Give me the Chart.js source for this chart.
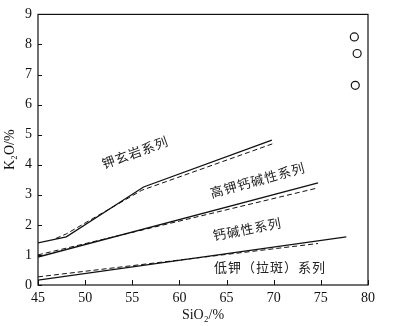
<!DOCTYPE html>
<html>
<head>
<meta charset="utf-8">
<script src="https://cdn.jsdelivr.net/npm/chart.js@4/dist/chart.umd.min.js"></script>
<style>
  html, body { margin: 0; padding: 0; background: #fff; }
  #wrap { width: 393px; height: 326px; }
</style>
</head>
<body>
<div id="wrap"><canvas id="chart" width="393" height="326"></canvas></div>
<script>
// eixos
const xTicks = [45, 50, 55, 60, 65, 70, 75, 80];
const yTicks = [0, 1, 2, 3, 4, 5, 6, 7, 8, 9];

// linhas divisórias (SiO2 / K2O)
const shoSolidX = [45, 48, 56.2, 69.8];
const shoSolidY = [1.40, 1.60, 3.26, 4.82];
const shoDashX = [46.9, 48, 56, 70];
const shoDashY = [1.55, 1.70, 3.15, 4.71];

const hkSolidX = [45, 74.7];
const hkSolidY = [0.93, 3.40];
const hkDashX = [45, 74.7];
const hkDashY = [1.00, 3.23];

const lkSolidX = [45, 77.7];
const lkSolidY = [0.16, 1.60];
const lkDashX = [45, 74.7];
const lkDashY = [0.27, 1.38];

// amostras
const amostraX = [78.55, 78.85, 78.65];
const amostraY = [8.25, 7.70, 6.64];

// rótulos das séries
const rotulos = ['钾玄岩系列', '高钾钙碱性系列', '钙碱性系列', '低钾（拉斑）系列'];

const pts = (xs, ys) => xs.map((x, i) => ({ x: x, y: ys[i] }));

const linha = (xs, ys, dash) => ({
    data: pts(xs, ys),
    showLine: true,
    borderColor: '#111',
    borderWidth: dash ? 1 : 1.3,
    borderDash: dash ? [5, 3] : [],
    pointRadius: 0,
    fill: false,
    tension: 0
});

// moldura + ticks para dentro + rótulos
const extras = {
    id: 'extras',
    afterDraw(chart) {
        const ctx = chart.ctx;
        const a = chart.chartArea;
        const sx = chart.scales.x, sy = chart.scales.y;
        ctx.save();
        ctx.strokeStyle = '#111';
        ctx.lineWidth = 1.2;
        ctx.strokeRect(a.left, a.top, a.right - a.left, a.bottom - a.top);
        ctx.lineWidth = 1;
        xTicks.forEach(v => {
            const px = Math.round(sx.getPixelForValue(v)) + 0.5;
            ctx.beginPath(); ctx.moveTo(px, a.bottom); ctx.lineTo(px, a.bottom - 5); ctx.stroke();
        });
        yTicks.forEach(v => {
            const py = Math.round(sy.getPixelForValue(v)) + 0.5;
            ctx.beginPath(); ctx.moveTo(a.left, py); ctx.lineTo(a.left + 4, py); ctx.stroke();
        });

        const txt = (s, x, y, ang) => {
            ctx.save();
            ctx.translate(sx.getPixelForValue(x), sy.getPixelForValue(y));
            ctx.rotate(ang * Math.PI / 180);
            ctx.fillStyle = '#222';
            ctx.font = '13px "Noto Sans CJK SC"';
            ctx.letterSpacing = '1px';
            ctx.textAlign = 'center';
            ctx.textBaseline = 'middle';
            ctx.fillText(s, 0, 0);
            ctx.restore();
        };
        txt(rotulos[0], 55.3, 4.41, -20);
        txt(rotulos[1], 68.3, 3.49, -15.5);
        txt(rotulos[2], 67.2, 1.86, -11);
        txt(rotulos[3], 69.6, 0.59, 0);
        ctx.restore();
    }
};

new Chart(document.getElementById('chart'), {
    type: 'scatter',
    data: {
        datasets: [
            linha(shoSolidX, shoSolidY, false),
            linha(shoDashX, shoDashY, true),
            linha(hkSolidX, hkSolidY, false),
            linha(hkDashX, hkDashY, true),
            linha(lkSolidX, lkSolidY, false),
            linha(lkDashX, lkDashY, true),
            {
                data: pts(amostraX, amostraY),
                showLine: false,
                pointRadius: 4,
                pointBorderWidth: 1.2,
                pointBorderColor: '#111',
                pointBackgroundColor: '#fff'
            }
        ]
    },
    options: {
        responsive: false,
        animation: false,
        layout: { padding: { top: 9, right: 25, left: 2, bottom: 0 } },
        plugins: { legend: { display: false }, tooltip: { enabled: false } },
        scales: {
            x: {
                type: 'linear',
                min: 45, max: 80,
                afterBuildTicks: s => { s.ticks = xTicks.map(v => ({ value: v })); },
                afterFit: s => { s.height = 41; },
                grid: { display: false, drawTicks: false },
                border: { display: false },
                ticks: { color: '#111', padding: 5, font: { family: '"Liberation Serif"', size: 14 } },
                title: {
                    display: true, text: 'SiO₂/%', color: '#111', padding: { top: 0, bottom: 2 },
                    font: { family: '"Liberation Serif", "DejaVu Serif"', size: 14 }
                }
            },
            y: {
                type: 'linear',
                min: 0, max: 9,
                afterBuildTicks: s => { s.ticks = yTicks.map(v => ({ value: v })); },
                afterFit: s => { s.width = 36; },
                grid: { display: false, drawTicks: false },
                border: { display: false },
                ticks: { color: '#111', padding: 6, font: { family: '"Liberation Serif"', size: 14 } },
                title: {
                    display: true, text: 'K₂O/%', color: '#111', padding: { top: 0, bottom: 2 },
                    font: { family: '"Liberation Serif", "DejaVu Serif"', size: 14 }
                }
            }
        }
    },
    plugins: [extras]
});
</script>
</body>
</html>
